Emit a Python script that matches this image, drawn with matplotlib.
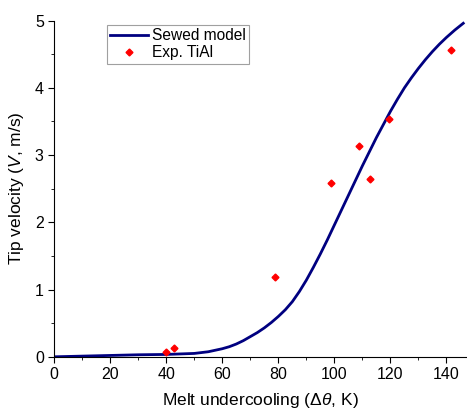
import numpy as np
import matplotlib
matplotlib.use('Agg')
import matplotlib.pyplot as plt
from matplotlib.ticker import MultipleLocator

plt.rcParams['font.family'] = ['Liberation Sans', 'DejaVu Sans']
plt.rcParams['mathtext.fontset'] = 'custom'
plt.rcParams['mathtext.it'] = 'Liberation Sans:italic'
plt.rcParams['mathtext.rm'] = 'Liberation Sans'

# sewed model curve
model_dT = [0, 10, 20, 30, 40, 50, 55, 60, 62.5, 65, 67.5, 70, 72.5, 75, 77.5, 80, 82.5,
            85, 87.5, 90, 92.5, 95, 97.5, 100, 105, 110, 115, 120, 122.5, 125, 127.5, 130,
            132.5, 135, 137.5, 140, 143, 146]
model_V = [0.0, 0.01, 0.02, 0.03, 0.035, 0.05, 0.075, 0.12, 0.15, 0.19, 0.24, 0.30, 0.36, 0.43, 0.51, 0.60, 0.70,
           0.82, 0.97, 1.14, 1.33, 1.53, 1.74, 1.96, 2.40, 2.84, 3.26, 3.65, 3.83, 4.00, 4.15, 4.29,
           4.42, 4.54, 4.65, 4.75, 4.86, 4.96]

# experiment TiAl
exp_dT = [40, 42.9, 78.8, 98.7, 108.7, 112.6, 119.6, 141.6]
exp_V = [0.07, 0.13, 1.18, 2.59, 3.14, 2.64, 3.53, 4.56]

fig = plt.figure(figsize=(4.67, 4.12), dpi=100)
ax = fig.add_axes([0.116, 0.134, 0.882, 0.816])

ax.plot(model_dT, model_V, color='#000080', lw=2, label='Sewed model')
ax.plot(exp_dT, exp_V, ls='none', marker='D', ms=3.5, color='red', label='Exp. TiAl')

ax.set_xlim(0, 147)
ax.set_ylim(0, 5)
ax.xaxis.set_major_locator(MultipleLocator(20))
ax.xaxis.set_minor_locator(MultipleLocator(10))
ax.yaxis.set_major_locator(MultipleLocator(1))
ax.yaxis.set_minor_locator(MultipleLocator(0.5))
ax.tick_params(which='both', direction='out', labelsize=11.5)
ax.tick_params(which='major', length=4)
ax.tick_params(which='minor', length=2.5)
ax.spines['top'].set_visible(False)
ax.spines['right'].set_visible(False)

ax.set_xlabel(r'Melt undercooling ($\mathit{\Delta\theta}$, K)', fontsize=12.5, labelpad=6)
ax.set_ylabel(r'Tip velocity ($\mathit{V}$, m/s)', fontsize=12.5, labelpad=6)

leg = ax.legend(loc='upper left', bbox_to_anchor=(0.129, 0.987), borderaxespad=0,
                fontsize=11.2, fancybox=False, framealpha=1, edgecolor='#a0a0a0',
                borderpad=0.2, handlelength=2.4, labelspacing=0.15, handletextpad=0.3)
leg.get_frame().set_linewidth(0.8)

plt.savefig('out.png', dpi=100)
